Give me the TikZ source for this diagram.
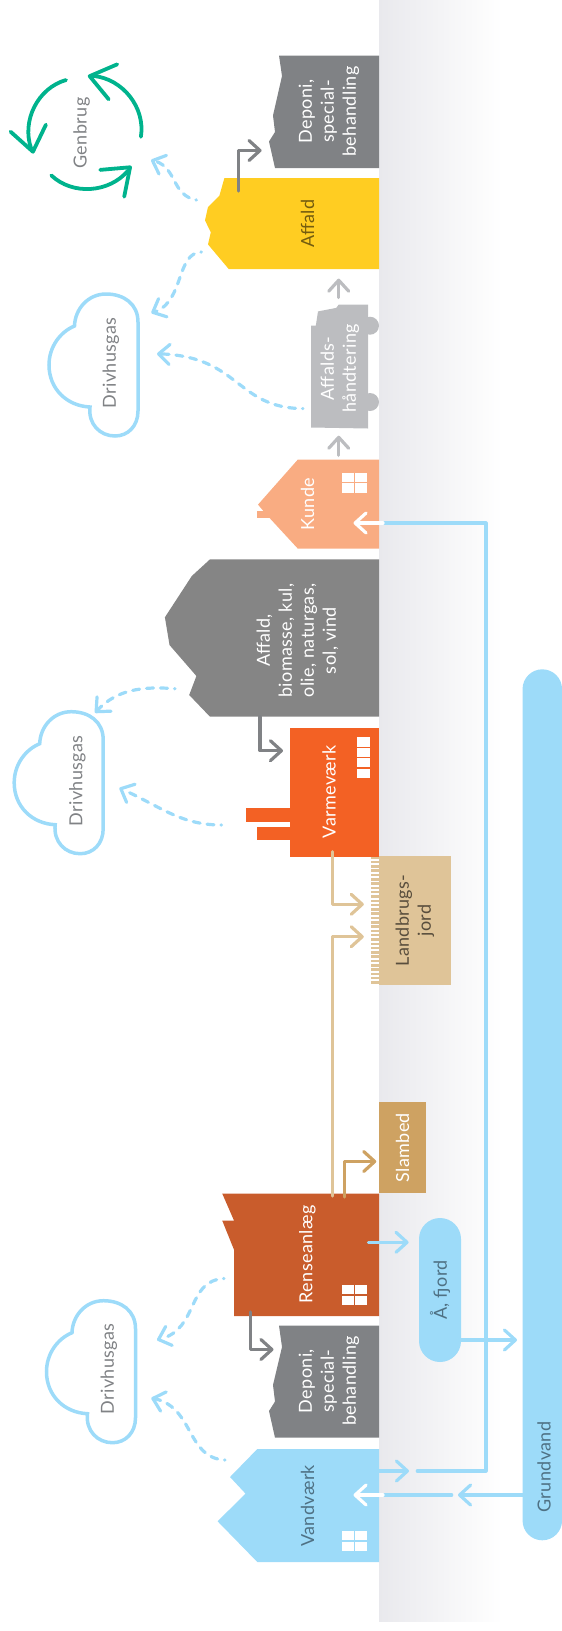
\documentclass[tikz,border=0pt]{standalone}
\usepackage{fontspec}
\setmainfont{Lato}[LetterSpace=2]
\usetikzlibrary{arrows.meta, bending, shapes.misc, positioning}
\definecolor{bandleft}{HTML}{E9E9ED}
\definecolor{bandmid}{HTML}{F4F4F5}
\definecolor{skyblue}{HTML}{9DDBF9}
\definecolor{screengrey}{HTML}{808285}
\definecolor{lightgrey}{HTML}{BCBDC0}
\definecolor{fuelgrey}{HTML}{858585}
\definecolor{wasteyellow}{HTML}{FFCD22}
\definecolor{kundepeach}{HTML}{F9AC82}
\definecolor{heatorange}{HTML}{F36124}
\definecolor{plantrust}{HTML}{C95C2C}
\definecolor{soiltan}{HTML}{DFC498}
\definecolor{sludgetan}{HTML}{CEA262}
\definecolor{recyclegreen}{HTML}{00B38D}
\definecolor{bluetext}{HTML}{4F7184}
\pgfdeclarearrow{
    name=Chevron,
    parameters={\the\pgflinewidth,\the\pgfarrowlength,\the\pgfarrowwidth},
    setup code={\pgfarrowlinewidth=\pgflinewidth\pgfarrowssettipend{.5\pgfarrowlinewidth}\pgfarrowssetbackend{-\pgfarrowlength}\pgfarrowssetlineend{-\pgfarrowlinewidth}\pgfarrowssavethe\pgfarrowlinewidth\pgfarrowssavethe\pgfarrowlength\pgfarrowssavethe\pgfarrowwidth},
    drawing code={\pgfsetlinewidth{\pgfarrowlinewidth}\pgfsetdash{}{0pt}\pgfsetroundcap\pgfsetroundjoin\pgfpathmoveto{\pgfqpoint{-\pgfarrowlength}{.5\pgfarrowwidth}}\pgfpathlineto{\pgfpointorigin}\pgfpathlineto{\pgfqpoint{-\pgfarrowlength}{-.5\pgfarrowwidth}}\pgfusepathqstroke},
    defaults={length=11pt, width=20pt}
}
\tikzset{label/.style={rotate=90, align=center, inner sep=0pt, font=\fontsize{18}{22}\selectfont}}
\tikzset{labelw/.style={label, text=white}}
\tikzset{labelg/.style={label, text=screengrey}}
\tikzset{labelb/.style={label, text=bluetext}}
\tikzset{flow/.style={line width=3.2pt, line cap=round, line join=round, -{Chevron[length=11pt, width=20pt, flex]}}}
\tikzset{flowplain/.style={line width=3.2pt, line cap=round, line join=round}}
\tikzset{gas/.style={flow, color=skyblue, dash pattern=on 7pt off 7pt, dash phase=6.5pt}}
\tikzset{cycle/.style={color=recyclegreen, line width=3.8pt, line cap=round, line join=round, -{Chevron[length=24pt, width=36pt, flex]}}}
\tikzset{window/.pic={
    \fill [white] (-12.4,-10) rectangle (-0.6,-0.6);
    \fill [white] (0.6,-10) rectangle (12.4,-0.6);
    \fill [white] (-12.4,0.6) rectangle (-0.6,10);
    \fill [white] (0.6,0.6) rectangle (12.4,10);
}}
\tikzset{gascloud/.pic={
    \draw [color=skyblue, line width=3.5pt] (0,28) .. controls (0,10) and (-14,0) .. (-32,0)
        .. controls (-50,0) and (-63,15) .. (-63.5,32)
        .. controls (-78,38) and (-89,53) .. (-89,71)
        .. controls (-89,95) and (-71,112) .. (-48,113)
        .. controls (-50,130) and (-38,142) .. (-23,142)
        .. controls (-10,142) and (0,132) .. (0,117) -- cycle;
}}
\begin{document}
\begin{tikzpicture}[x=1pt, y=-1pt]
    \useasboundingbox (0,0) rectangle (562,1631);

    \shade [left color=bandleft, middle color=bandmid, right color=white] (379,0) rectangle (502,1621);

    % top of the chain
    \fill [screengrey] (279,55.5) -- (379,55.5) -- (379,168) -- (275,168) -- (269,141.5) -- (275,132) -- (273,115.5) -- (282,76) -- cycle;
    \node [labelw] (Dep1) at (329,111.5) {Deponi,\\special-\\behandling};

    \fill [wasteyellow] (224.4,178) -- (379,178) -- (379,269) -- (228.7,269) -- (208,244.4) -- (210.8,232.3) -- (205,220.4) -- (208,207) -- (219.4,195.7) -- cycle;
    \node [label, text=black!55!wasteyellow] (Aff) at (307.5,223.7) {Affald};

    \fill [lightgrey] (311,427.5) -- (368,428.5) -- (368,304.6) -- (338.7,304.6) -- (336.2,307.9) -- (318,311.4) -- (315.8,325.7) -- (311,325.7) -- cycle;
    \fill [lightgrey] (370,325.7) circle (9);
    \fill [lightgrey] (370,402) circle (9);
    \node [labelw] (Hand) at (340,368.4) {Affalds-\\håndtering};

    \fill [kundepeach] (297.8,459.6) -- (379,459.6) -- (379,548.6) -- (297.8,548.6) -- (269.5,517.9) -- (257,517.9) -- (257,511) -- (263.4,511) -- (258,504.6) -- cycle;
    \node [labelw] (Kun) at (307.5,504) {Kunde};
    \pic at (354.5,482.5) {window};

    % heat
    \fill [fuelgrey] (210,559.3) -- (379,559.3) -- (379,716.7) -- (210,716.7) -- (189.2,695) -- (196.4,676) -- (169.5,645) -- (164.9,617.3) -- (191.8,576) -- cycle;
    \node [labelw] (Fuel) at (297.5,640.5) {Affald,\\biomasse, kul,\\olie, naturgas,\\sol, vind};

    \fill [heatorange] (290,728.3) rectangle (379,856.7);
    \fill [heatorange] (246,808.3) rectangle (290,821.7);
    \fill [heatorange] (257,826.7) rectangle (290,839.7);
    \node [labelw] (Var) at (329,791.7) {Varmeværk};
    \fill [white] (357.3,737) rectangle (369.5,746.6);
    \fill [white] (357.3,747.9) rectangle (369.5,757);
    \fill [white] (357.3,758.3) rectangle (369.5,767.4);
    \fill [white] (357.3,768.9) rectangle (369.5,778);

    \foreach \fy in {856.5,860.8,...,984} {
        \fill [soiltan] (370.7,\fy) rectangle (379,\fy+2.5);
    }
    \node [labelg, text=black!60!soiltan, fill=soiltan, minimum width=129pt, minimum height=72pt] (Land) at (415,920.5) {Landbrugs-\\jord};

    % water
    \node [labelw, fill=sludgetan, minimum width=91.5pt, minimum height=47pt] (Slam) at (402.5,1147.7) {Slambed};

    \fill [plantrust] (222.2,1193.5) -- (379,1193.5) -- (379,1316) -- (234,1316) -- (234,1249.7) -- (222.2,1220.5) -- (234,1220.5) -- cycle;
    \node [labelw] (Rens) at (307.5,1254.3) {Renseanlæg};
    \pic at (354.5,1295) {window};

    \fill [screengrey] (279,1325.6) -- (379,1325.6) -- (379,1437.7) -- (275,1437.7) -- (269,1411) -- (275,1401.5) -- (273,1385) -- (282,1347) -- cycle;
    \node [labelw] (Dep2) at (329,1381) {Deponi,\\special-\\behandling};

    \fill [skyblue] (257.3,1449) -- (379,1449) -- (379,1562) -- (257.3,1562) -- (217.6,1521.3) -- (245.5,1493.6) -- (230,1477) -- cycle;
    \node [labelb] (Vand) at (307.5,1505.7) {Vandværk};
    \pic at (354.5,1541) {window};

    \node [labelb, rounded rectangle, fill=skyblue, minimum width=144pt, minimum height=42pt] (Fjord) at (440,1290) {Å, fjord};
    \node [rounded rectangle, rotate=90, inner sep=0pt, fill=skyblue, minimum width=871pt, minimum height=39.5pt] (Grund) at (542.3,1104.8) {};
    \node [labelb] (Grundt) at (544,1467) {Grundvand};

    % outlets and clouds
    \pic at (138,294) {gascloud};
    \node [labelg] (Gas1) at (111,363) {Drivhusgas};
    \pic at (103.2,711.7) {gascloud};
    \node [labelg] (Gas2) at (77.5,780.7) {Drivhusgas};
    \pic at (135.5,1300.7) {gascloud};
    \node [labelg] (Gas3) at (109,1369) {Drivhusgas};
    \node [labelg] (Gen) at (81.7,133) {Genbrug};

    % recycling loop
    \coordinate (C1a) at (140.9,136.8);
    \coordinate (C1b) at (87.8,75.7);
    \coordinate (C2a) at (66,80);
    \coordinate (C2b) at (33.3,153.6);
    \coordinate (C3a) at (51.3,175.4);
    \coordinate (C3b) at (131.5,166);
    \draw [cycle] (C1a) to [bend right=50] (C1b);
    \draw [cycle] (C2a) to [bend right=50] (C2b);
    \draw [cycle] (C3a) to [bend right=50] (C3b);

    % greenhouse gas and recycling outlets
    \coordinate (G1a) at (196.4,200);
    \coordinate (G1b) at (151,160);
    \coordinate (G2a) at (201.4,252);
    \coordinate (G2b) at (151.3,313);
    \coordinate (G3a) at (303,408.6);
    \coordinate (G3b) at (157,353.8);
    \coordinate (G4a) at (175,688.7);
    \coordinate (G4b) at (95,712.8);
    \coordinate (G5a) at (221.5,825);
    \coordinate (G5b) at (119.4,788);
    \coordinate (G6a) at (224,1278.5);
    \coordinate (G6b) at (157,1340);
    \coordinate (G7a) at (225,1460);
    \coordinate (G7b) at (151.3,1398);
    \draw [gas] (G1a) .. controls (170,195) and (178,165) .. (G1b);
    \draw [gas] (G2a) .. controls (175,253) and (185,305) .. (G2b);
    \draw [gas] (G3a) .. controls (235,408) and (240,355) .. (G3b);
    \draw [gas] (G4a) .. controls (140,686) and (115,690) .. (G4b);
    \draw [gas] (G5a) .. controls (180,825) and (160,806) .. (G5b);
    \draw [gas] (G6a) .. controls (185,1281) and (200,1331) .. (G6b);
    \draw [gas] (G7a) .. controls (185,1458) and (195,1405) .. (G7b);

    % solid waste
    \coordinate (W1) at (238.4,191);
    \coordinate (W2) at (261.6,150.5);
    \coordinate (W3) at (338.7,297.5);
    \coordinate (W4) at (338.7,278.6);
    \coordinate (W5) at (338.7,455.4);
    \coordinate (W6) at (338.7,435.7);
    \coordinate (W7) at (259.9,716.7);
    \coordinate (W8) at (283,750.7);
    \coordinate (W9) at (250.5,1312);
    \coordinate (W10) at (273.5,1349.5);
    \draw [flow, color=screengrey] (W1) |- (W2);
    \draw [flow, color=lightgrey] (W3) -- (W4);
    \draw [flow, color=lightgrey] (W5) -- (W6);
    \draw [flow, color=screengrey] (W7) |- (W8);
    \draw [flow, color=screengrey] (W9) |- (W10);

    % soil and sludge
    \coordinate (S1) at (332.6,851.7);
    \coordinate (S2) at (363.8,904.3);
    \coordinate (S3) at (332.6,1196);
    \coordinate (S4) at (363.8,936.7);
    \coordinate (S5) at (344.8,1197);
    \coordinate (S6) at (376.3,1161.5);
    \draw [flow, color=soiltan] (S1) |- (S2);
    \draw [flow, color=soiltan] (S3) |- (S4);
    \draw [flow, color=sludgetan] (S5) |- (S6);

    % water lines
    \coordinate (L1) at (368.5,1242.3);
    \coordinate (L2) at (408.6,1242.3);
    \coordinate (L3) at (461,1340);
    \coordinate (L4) at (517,1340);
    \coordinate (L5) at (379,1471);
    \coordinate (L6) at (409,1471);
    \coordinate (L7) at (417.3,1471);
    \coordinate (L8) at (486,523);
    \coordinate (L9) at (383,523);
    \coordinate (L10) at (353.5,523);
    \coordinate (L11) at (523,1495);
    \coordinate (L12) at (458,1495);
    \coordinate (L13) at (451.7,1495);
    \coordinate (L14) at (383,1495);
    \coordinate (L15) at (353.5,1495);
    \draw [flow, color=skyblue] (L1) -- (L2);
    \draw [flow, color=skyblue] (L3) -- (L4);
    \draw [flow, color=skyblue] (L5) -- (L6);
    \draw [flowplain, color=skyblue] (L7) -| (L8) -- (L9);
    \draw [flow, color=white] (L9) -- (L10);
    \draw [flow, color=skyblue] (L11) -- (L12);
    \draw [flowplain, color=skyblue] (L13) -- (L14);
    \draw [flow, color=white] (L14) -- (L15);
\end{tikzpicture}
\end{document}
